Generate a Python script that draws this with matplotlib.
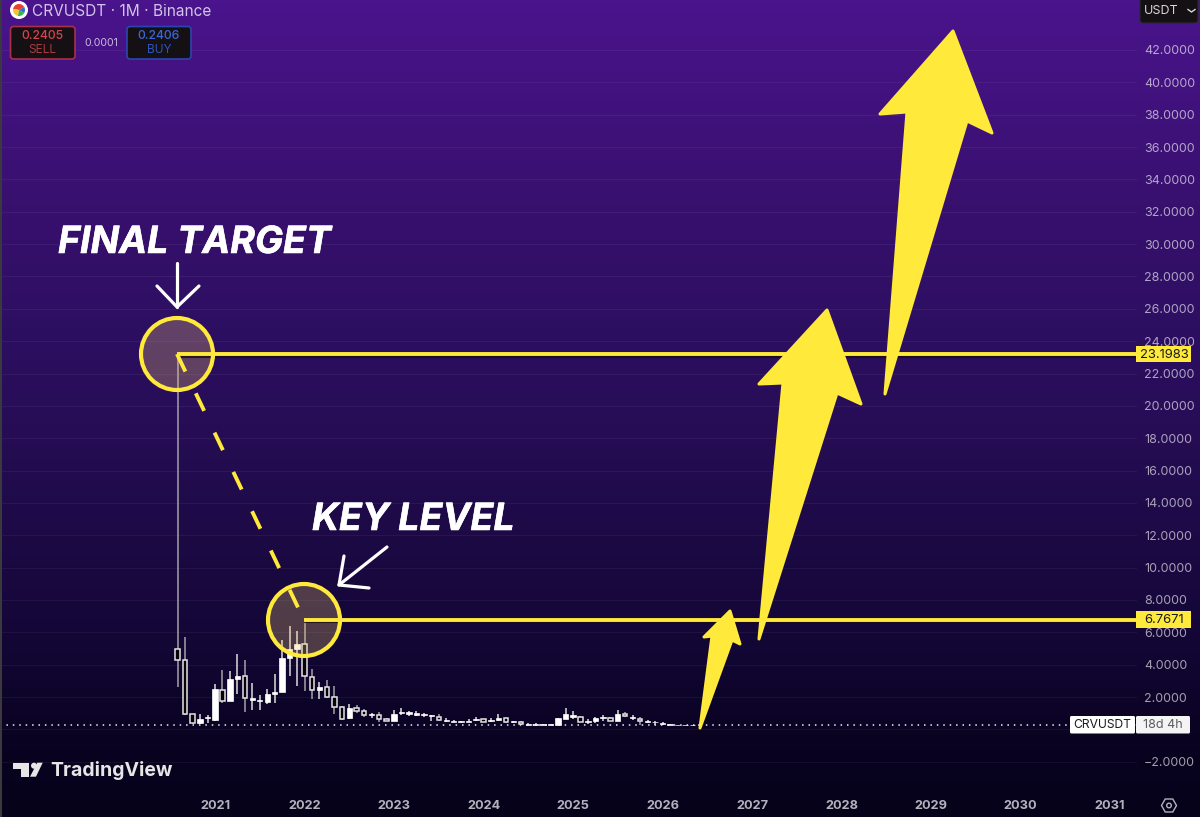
import matplotlib
matplotlib.use("Agg")
import matplotlib.pyplot as plt
import matplotlib.patheffects as pe
import numpy as np
import pandas as pd
from matplotlib.colors import LinearSegmentedColormap
from matplotlib.patches import Circle, FancyBboxPatch, Polygon, Rectangle, RegularPolygon, Wedge

plt.rcParams['font.family'] = ['Inter', 'DejaVu Sans']

# monthly candles, CRVUSDT, Aug 2020 onwards
dates = pd.date_range("2020-08-01", periods=71, freq="MS")
opens = [4.99, 4.31, 0.93, 0.41, 0.72, 0.60, 2.45, 1.73, 3.13, 3.32,
         1.81, 1.73, 1.69, 2.21, 2.33, 4.41, 4.99, 5.30, 3.26, 2.43,
         2.60, 1.98, 1.38, 0.68, 1.34, 1.15, 0.87, 0.91, 0.66, 0.52,
         1.03, 0.97, 0.91, 0.87, 0.82, 0.78, 0.49, 0.47, 0.47, 0.47,
         0.58, 0.64, 0.49, 0.58, 0.72, 0.45, 0.45, 0.27, 0.27, 0.27,
         0.27, 0.27, 0.66, 0.74, 0.78, 0.47, 0.49, 0.68, 0.70, 0.54,
         0.95, 0.70, 0.66, 0.45, 0.43, 0.31, 0.27, 0.27, 0.27, 0.27, 0.27]
highs = [23.20, 5.71, 0.93, 0.97, 0.87, 2.82, 3.69, 3.59, 4.68, 4.27,
         2.89, 2.10, 2.52, 3.44, 5.51, 6.39, 6.08, 6.77, 3.75, 2.93,
         3.07, 2.66, 1.42, 1.59, 1.51, 1.26, 1.01, 1.07, 0.68, 1.18,
         1.30, 1.15, 1.11, 1.03, 0.89, 0.93, 0.68, 0.56, 0.54, 0.64,
         0.74, 0.66, 0.68, 0.93, 0.72, 0.54, 0.49, 0.37, 0.41, 0.35,
         0.33, 0.68, 1.34, 1.11, 0.82, 0.66, 0.74, 0.87, 0.78, 1.20,
         1.07, 0.87, 0.74, 0.58, 0.49, 0.45, 0.33, 0.29, 0.29, 0.29, 0.29]
lows = [2.62, 0.91, 0.35, 0.35, 0.41, 0.52, 1.63, 1.73, 2.16, 1.07,
        1.18, 1.22, 1.55, 1.63, 2.29, 3.28, 2.66, 2.37, 1.86, 1.88,
        1.94, 0.97, 0.60, 0.64, 1.01, 0.78, 0.72, 0.43, 0.52, 0.49,
        0.91, 0.82, 0.85, 0.78, 0.54, 0.49, 0.45, 0.43, 0.37, 0.43,
        0.54, 0.45, 0.47, 0.54, 0.39, 0.41, 0.27, 0.25, 0.23, 0.25,
        0.25, 0.25, 0.62, 0.66, 0.43, 0.33, 0.41, 0.54, 0.49, 0.49,
        0.78, 0.58, 0.27, 0.37, 0.29, 0.25, 0.25, 0.27, 0.27, 0.27, 0.24]
closes = [4.31, 0.97, 0.41, 0.66, 0.76, 2.49, 1.75, 3.13, 3.32, 1.94,
          1.94, 1.81, 2.21, 2.33, 4.41, 4.99, 5.30, 3.28, 2.45, 2.60,
          2.00, 1.40, 0.64, 1.30, 1.15, 0.89, 0.93, 0.66, 0.54, 0.97,
          1.07, 1.05, 0.99, 0.93, 0.89, 0.56, 0.58, 0.52, 0.52, 0.54,
          0.66, 0.47, 0.60, 0.72, 0.43, 0.49, 0.31, 0.33, 0.33, 0.31,
          0.31, 0.68, 0.93, 0.91, 0.47, 0.54, 0.72, 0.74, 0.54, 0.95,
          0.85, 0.76, 0.49, 0.52, 0.47, 0.37, 0.31, 0.29, 0.29, 0.29, 0.24]

last_price = 0.24
final_target = 23.1983
key_level = 6.7671

price_ticks = list(range(-2, 44, 2))
year_ticks = list(range(2021, 2032))

YELLOW = "#ffe93b"


def px_axes(fig):
    ax = fig.add_axes([0, 0, 1, 1], facecolor="none")
    ax.set_xlim(0, 1200)
    ax.set_ylim(817, 0)
    ax.axis("off")
    return ax


def rounded_box(ax, x0, y0, x1, y1, face, edge, lw=1.2, rad=3):
    ax.add_patch(FancyBboxPatch((x0 + rad, y0 + rad), x1 - x0 - 2 * rad, y1 - y0 - 2 * rad,
                                boxstyle=f"round,pad={rad},rounding_size={rad}",
                                fc=face, ec=edge, lw=lw, zorder=6))


fig = plt.figure(figsize=(12, 8.17), dpi=100)

# background gradient
bg = fig.add_axes([0, 0, 1, 1])
cmap = LinearSegmentedColormap.from_list("bg", [
    (0.00, "#4a148c"), (0.25, "#38106e"), (0.40, "#2d0f62"), (0.52, "#270d56"),
    (0.65, "#1d0a46"), (0.80, "#120634"), (0.90, "#0a0322"), (1.00, "#05021a")])
bg.imshow(np.linspace(0, 1, 817).reshape(-1, 1), aspect="auto", cmap=cmap, extent=(0, 1200, 817, 0))
bg.axis("off")

# chart pane, right edge at px 1137 and bottom at px 792
ax = fig.add_axes([0, 25 / 817, 1137 / 1200, 792 / 817], facecolor="none")
ax.set_xlim(2021 - 215 / 89.5, 2021 + 922 / 89.5)
ax.set_ylim(2 - 95 / 16.175, 2 + 697 / 16.175)
for s in ax.spines.values():
    s.set_visible(False)
ax.yaxis.tick_right()
ax.set_yticks(price_ticks)
ax.set_yticklabels(["" if p == 0 else f"{p:.4f}".replace("-", "\u2212") for p in price_ticks])
ax.set_xticks(year_ticks)
ax.set_xticklabels([str(y) for y in year_ticks], fontweight="bold")
ax.tick_params(axis="y", length=0, pad=5, labelsize=9, labelcolor=(1, 1, 1, 0.62))
ax.tick_params(axis="x", length=0, pad=6, labelsize=9.2, labelcolor="#b4b0bc")
ax.grid(axis="y", color="white", alpha=0.05, lw=0.8)
ax.set_axisbelow(True)

# candles
x = dates.year + (dates.month - 1) / 12
o, h, l, c = map(np.array, (opens, highs, lows, closes))
up = c >= o
ax.vlines(x[~up], l[~up], h[~up], color="#a4a2a8", lw=1.1, zorder=2)
ax.vlines(x[up], l[up], h[up], color="#dcdcdc", lw=1.1, zorder=2)
ax.bar(x[~up], (o - c)[~up], bottom=c[~up], width=0.05, color="#060408", edgecolor="#e4e4e4", lw=1.1, zorder=3)
ax.bar(x[up], (c - o)[up], bottom=o[up], width=0.06, color="white", edgecolor="white", lw=0.5, zorder=3)

# last price dotted line
ax.axhline(last_price, color="#ececec", lw=1.1, ls=(0, (1, 3.2)), zorder=2)

# annotations in pixel coords
an = px_axes(fig)
an.add_patch(Rectangle((0, 0), 2, 817, fc="#3a3a3e", ec="none"))

for cx, cy in [(177, 354), (304, 620)]:
    an.add_patch(Circle((cx, cy), 36, fc=(0.95, 0.8, 0.45, 0.27), ec="none", zorder=3))
    an.add_patch(Circle((cx, cy), 36, fc="none", ec=YELLOW, lw=3.0, zorder=5))

# target / key level lines, dark shadow under them
for x0, level in [(177, final_target), (304, key_level)]:
    y = 697 - (level - 2) * 16.175
    an.plot([x0, 1137], [y + 1.5, y + 1.5], color="#1a0c10", lw=3.0, alpha=0.8, zorder=4, solid_capstyle="butt")
    an.plot([x0, 1137], [y, y], color=YELLOW, lw=2.8, zorder=4, solid_capstyle="butt")

an.plot([177, 304], [354, 620], color=YELLOW, lw=2.8, ls=(0, (5.0, 6.2)), dash_capstyle="butt", zorder=4)

# big yellow arrows
arrows = [
    [(700, 728), (712, 636), (704, 637), (730, 611), (740, 644), (732, 640)],
    [(759, 639), (783, 383), (759, 384), (827, 310), (861, 404), (837, 393)],
    [(885, 394), (907, 112), (880, 114), (953, 31), (992, 133), (967, 121)],
]
for pts in arrows:
    an.add_patch(Polygon(pts, closed=True, fc=YELLOW, ec=YELLOW, lw=2.2, joinstyle="round", zorder=5))

# white hand drawn arrows
white_lines = [
    ([177, 177], [263, 307]), ([157, 177, 199], [286, 307, 286]),
    ([387, 339], [547, 585]), ([344, 339, 369], [556, 585, 588]),
]
for xs, ys in white_lines:
    an.plot(xs, ys, color="white", lw=2.3, solid_capstyle="round", solid_joinstyle="round", zorder=6)

heavy = [pe.withStroke(linewidth=0.4, foreground="white")]
an.text(58, 243, "FINAL TARGET", color="white", fontsize=27, fontweight="bold", fontstyle="italic",
        ha="left", va="center", zorder=6, path_effects=heavy)
an.text(312, 520, "KEY LEVEL", color="white", fontsize=27, fontweight="bold", fontstyle="italic",
        ha="left", va="center", zorder=6, path_effects=heavy)

# header
an.add_patch(Circle((19, 10), 9, fc="white", ec="none", zorder=6))
for t1, t2, col in [(30, 170, "#e8402f"), (170, 260, "#f7c631"), (260, 330, "#3bb54a"), (330, 390, "#2f6fd8")]:
    an.add_patch(Wedge((19, 10), 6, -t2, -t1, fc=col, ec="none", zorder=7))
an.text(32, 11, "CRVUSDT \u00b7 1M \u00b7 Binance", color="#d2c4e8", fontsize=11.1, va="center", ha="left", zorder=6)

rounded_box(an, 10.5, 26.5, 75, 59, "#141014", "#a8304a")
an.text(42.5, 36, "0.2405", color="#d8434f", fontsize=8.8, fontweight="medium", ha="center", va="center", zorder=7)
an.text(42.5, 50, "SELL", color="#a83a40", fontsize=8.6, ha="center", va="center", zorder=7)
an.text(101, 43, "0.0001", color="#c8b8e0", fontsize=7.6, ha="center", va="center", zorder=7)
rounded_box(an, 127, 26.5, 191, 59, "#141014", "#2a45b0")
an.text(159, 36, "0.2406", color="#3a68d8", fontsize=8.8, fontweight="medium", ha="center", va="center", zorder=7)
an.text(159, 50, "BUY", color="#2f55b8", fontsize=8.6, ha="center", va="center", zorder=7)

rounded_box(an, 1140, -4, 1198, 23, "#141014", "#2a2a2e", lw=0.8)
an.text(1144, 11, "USDT", color="#d8d8d8", fontsize=9, va="center", ha="left", zorder=7)
an.plot([1188, 1191.5, 1195], [9.5, 12, 9.5], color="#d8d8d8", lw=1, zorder=7)

# price tags on the right
for y0, y1, label in [(346, 362, "23.1983"), (611, 628, "6.7671")]:
    an.add_patch(Rectangle((1136, y0), 55, y1 - y0, fc=YELLOW, ec="none", zorder=6))
    an.text(1164, (y0 + y1) / 2 + 0.5, label, color="#1a1a1a", fontsize=9.4, ha="center", va="center", zorder=7)
rounded_box(an, 1070, 716, 1135, 733.5, "white", "none", lw=0, rad=1.5)
rounded_box(an, 1136, 716, 1190, 733.5, "#f4f4f4", "none", lw=0, rad=1.5)
an.text(1102.5, 725, "CRVUSDT", color="#1a1a1a", fontsize=8.7, ha="center", va="center", zorder=7)
an.text(1163, 725.5, "18d 4h", color="#5a5a60", fontsize=9, ha="center", va="center", zorder=7)

# settings icon
an.add_patch(RegularPolygon((1169, 805.5), 6, radius=7.5, orientation=np.pi / 6, fc="none", ec="#b4b2ba", lw=1.0, zorder=6))
an.add_patch(Circle((1169, 805.5), 2.3, fc="none", ec="#b4b2ba", lw=1.0, zorder=6))

# TradingView mark
LOGO = "#e6e6e6"
an.add_patch(Polygon([(13.3, 762.7), (29.3, 762.7), (29.3, 776.7), (20.7, 776.7), (20.7, 768.5), (13.3, 768.5)],
                     fc=LOGO, ec="none", zorder=6))
an.add_patch(Circle((34, 765.7), 3, fc=LOGO, ec="none", zorder=6))
an.add_patch(Polygon([(37.3, 762.7), (42.7, 762.7), (36, 776.7), (30, 776.7)], fc=LOGO, ec="none", zorder=6))
an.text(50.5, 770, "TradingView", color=LOGO, fontsize=14, fontweight="bold", ha="left", va="center", zorder=6)

fig.savefig("out.png", dpi=100)
plt.close(fig)
